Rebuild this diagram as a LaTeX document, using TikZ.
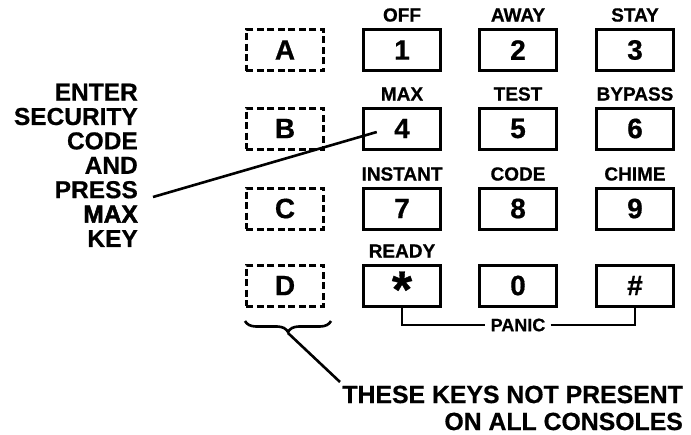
\documentclass[tikz,border=0pt]{standalone}
\usepackage{fontspec}
\setmainfont{Liberation Sans}[BoldFont={Liberation Sans Bold}, BoldFeatures={FakeBold=0.6}]
\newfontfamily\heavyfont{Liberation Sans Bold}[FakeBold=2]
\usetikzlibrary{decorations.pathreplacing,calc}
\begin{document}
\begin{tikzpicture}[x=1pt,y=-1pt,
  key/.style={draw, line width=3pt, minimum width=77.5pt, minimum height=41pt, inner sep=0pt,
    font=\fontsize{28}{28}\selectfont\bfseries},
  optkey/.style={key, dash pattern=on 7pt off 3.5pt},
  lab/.style={inner sep=0pt, font=\fontsize{19}{19}\selectfont\bfseries},
  bigtext/.style={inner sep=0pt, align=right, font=\fontsize{24.5}{24.4}\selectfont\bfseries},
  lead/.style={line width=2.6pt},
  panicline/.style={line width=2.2pt}]
\useasboundingbox (0,0) rectangle (691,434);
% optional keys
\node[optkey] (kA) at (285,50) {A};
\node[optkey] (kB) at (285,128.5) {B};
\node[optkey] (kC) at (285,208.5) {C};
\node[optkey] (kD) at (285,285.5) {D};
% number keys
\node[key] (k1) at (402,50) {1};
\node[key] (k2) at (518,50) {2};
\node[key] (k3) at (635,50) {3};
\node[key] (k4) at (402,128.5) {4};
\node[key] (k5) at (518,128.5) {5};
\node[key] (k6) at (635,128.5) {6};
\node[key] (k7) at (402,208.5) {7};
\node[key] (k8) at (518,208.5) {8};
\node[key] (k9) at (635,208.5) {9};
\node[key] (kstar) at (402,285.5) {\smash{\raisebox{-0.78em}{\fontsize{52}{52}\selectfont *}}};
\node[key] (k0) at (518,285.5) {0};
\node[key] (khash) at (635,285.5) {\#};
% key labels
\node[lab] (l1) at (402,15) {OFF};
\node[lab] (l2) at (518,15) {AWAY};
\node[lab] (l3) at (635,15) {STAY};
\node[lab] (l4) at (402,94) {MAX};
\node[lab] (l5) at (518,94) {TEST};
\node[lab] (l6) at (635,94) {BYPASS};
\node[lab] (l7) at (402,174) {INSTANT};
\node[lab] (l8) at (518,174) {CODE};
\node[lab] (l9) at (635,174) {CHIME};
\node[lab] (lstar) at (402,251) {READY};
% panic
\node[inner sep=0pt, inner xsep=5pt, font=\fontsize{18}{18}\selectfont\bfseries] (panic) at (518,325) {PANIC};
\draw[panicline] (kstar.south) |- (panic.west);
\draw[panicline] (panic.east) -| (khash.south);
% instruction text
\node[bigtext, anchor=north east] (instr) at (138,83.5)
  {ENTER\\SECURITY\\CODE\\AND\\PRESS\\{\heavyfont\mdseries MAX}\\KEY};
\coordinate (pressend) at (153,197);
\draw[lead] (pressend) -- ($(k4.west)+(15,3.5)$);
% brace and note
\draw[lead, decorate, decoration={brace, mirror, amplitude=11pt}] (245,321) -- (331,321);
\coordinate (tip) at (288,333);
\node[inner sep=0pt, align=right, anchor=north east, font=\fontsize{24.8}{27}\selectfont\bfseries] (note) at (683,385.5)
  {THESE KEYS NOT PRESENT\\ON ALL CONSOLES};
\draw[lead] (tip) -- (340,382);
\end{tikzpicture}
\end{document}
